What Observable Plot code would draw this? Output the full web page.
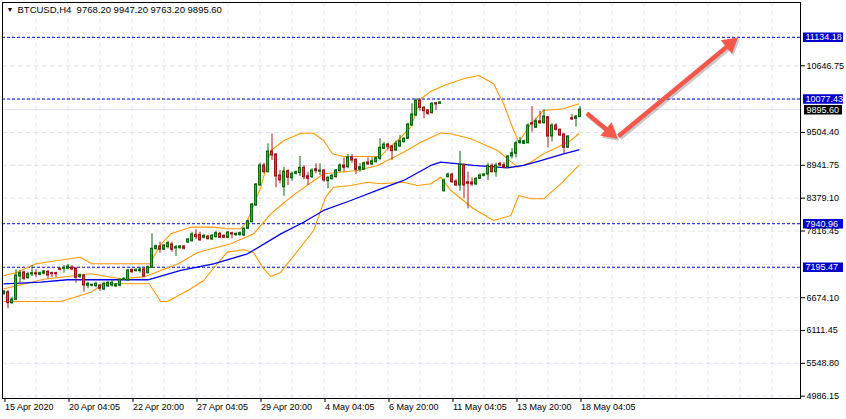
<!DOCTYPE html>
<html><head><meta charset="utf-8">
<script src="https://cdn.jsdelivr.net/npm/d3@7"></script>
<script src="https://cdn.jsdelivr.net/npm/@observablehq/plot@0.6"></script>
<style>html,body{margin:0;padding:0;background:#fff;}</style>
</head><body><div id="chart"></div>
<script>
const title = "BTCUSD,H4  9768.20 9947.20 9763.20 9895.60";
const open = [6741,6768,6580,6638,7037,7106,7008,7072,7094,7066,
7083,7118,7094,7094,7169,7169,7169,7191,7174,7025,
7054,6878,6878,6871,6883,6814,6866,6883,6866,6878,
6980,6968,7148,7128,7128,7157,7094,7186,7505,7551,
7495,7539,7585,7517,7522,7551,7619,7642,7751,7751,
7700,7722,7671,7710,7769,7734,7700,7779,7745,7745,
7740,7854,7967,8254,8596,8939,8824,9178,9127,8767,
8567,8841,8721,8796,8807,8899,8755,8738,8875,8831,
8853,8670,8704,8738,8841,8939,8910,9081,9036,8865,
8865,8990,8956,8995,9053,9225,9298,9264,9196,9264,
9338,9396,9624,9795,10052,9927,9881,9834,10006,9996,
8498,8738,8784,8665,8596,8951,8652,8647,8613,8711,
8762,8784,8933,8824,8968,8944,8910,9093,9139,9320,
9310,9320,9663,9584,9697,9663,9766,9435,9624,9550,
9470,9242,9749,9738,9768.2];
const high = [6797,6797,6683,7152,7140,7128,7111,7226,7152,7114,
7140,7140,7111,7111,7183,7226,7243,7226,7186,7080,
7071,6939,6909,6939,6900,6939,6951,6968,6917,6994,
7015,7157,7169,7166,7197,7197,7217,7769,7577,7625,
7585,7642,7625,7568,7568,7568,7688,7796,7837,7796,
7757,7740,7757,7813,7791,7748,7808,7796,7782,7799,
7877,8005,8288,8630,8978,8978,9310,9482,9139,8853,
8909,8865,8824,8844,9093,8939,8824,8882,8968,8968,
8865,8750,8784,8870,8968,9070,9127,9127,9053,8968,
8998,9070,9070,9084,9396,9338,9321,9281,9355,9453,
9418,9663,9996,10081,10064,9949,9893,10018,10018,10035,
8711,8807,8802,8694,9183,8956,8824,8728,8733,8796,
8802,8978,8968,8978,8995,8995,9110,9225,9355,9423,
9375,9653,9949,9738,9869,9893,9778,9653,9653,9567,
9482,9453,9812,9795,9947.2];
const low = [6712,6484,6558,6626,6922,6968,6991,7037,7025,7046,
7063,6998,7015,7015,7131,7094,7152,7140,6922,7003,
6768,6826,6857,6843,6785,6797,6849,6854,6849,6857,
6968,6951,7083,7114,7094,7025,7080,7174,7491,7436,
7482,7512,7453,7380,7505,7491,7602,7628,7666,7642,
7680,7662,7654,7697,7683,7688,7688,7683,7722,7731,
7722,7842,7954,8236,8579,8796,8810,9024,8557,8625,
8408,8596,8670,8776,8750,8694,8596,8716,8796,8767,
8653,8539,8690,8724,8827,8824,8882,8978,8785,8824,
8853,8939,8939,8981,9024,9213,9208,9024,9178,9247,
9324,9384,9607,9778,9869,9739,9795,9821,9881,9984,
8481,8724,8630,8579,8498,8368,8197,8579,8596,8699,
8742,8682,8810,8738,8922,8882,8896,9053,9070,9307,
9298,9307,9509,9572,9641,9650,9242,9338,9530,9435,
9139,9230,9709,9595,9763.2];
const close = [6780,6580,6643,7054,7094,6998,7077,7094,7072,7094,
7123,7054,7077,7077,7152,7186,7208,7157,7015,7059,
6883,6912,6895,6912,6826,6912,6929,6929,6900,6980,
6998,7140,7111,7152,7157,7037,7197,7512,7556,7495,
7568,7608,7495,7539,7551,7512,7671,7757,7710,7654,
7734,7676,7734,7779,7700,7700,7791,7757,7769,7779,
7854,7985,8271,8613,8939,8824,9178,9110,8750,8682,
8836,8728,8796,8824,8899,8738,8711,8853,8841,8853,
8682,8728,8762,8853,8939,8899,9081,9024,8865,8910,
8978,8956,9012,9064,9242,9298,9252,9184,9310,9355,
9396,9641,9812,10052,9927,9869,9824,9996,9984,10018,
8682,8784,8652,8596,8956,8596,8625,8613,8711,8767,
8784,8933,8824,8939,8939,8899,9093,9149,9320,9355,
9355,9624,9641,9697,9663,9778,9435,9624,9550,9453,
9242,9435,9727,9778,9895.6];

// Bollinger bands and moving average, read as [bar index, price]
const upperBand = [[0,7054],[3,7100],[8,7255],[19,7368],[22,7255],[36.5,7255],[39,7570],[41.7,7769],[46.7,7882],[52.4,7882],[55.8,7854],[59.2,7854],[60.9,7996],[64.2,8567],[66.7,9196],[70,9367],[74.2,9492],[77.4,9492],[79.9,9367],[82.1,9139],[84.9,9093],[94.2,9093],[95.9,9225],[98.4,9367],[101.7,9595],[104.2,10081],[106.7,10206],[110,10309],[114.9,10424],[118.7,10480],[122.4,10338],[124.9,9996],[127.1,9595],[128.7,9338],[131.7,9653],[134.9,9881],[139.9,9910],[143.7,9996]];
const middleBand = [[0,6826],[10,6990],[21.7,7083],[29.2,6998],[35,7030],[43.7,7260],[48.4,7448],[56.7,7597],[62.4,7769],[66.7,8111],[69.2,8253],[71.7,8396],[79.9,8796],[88.4,8853],[93.4,8939],[99.9,9167],[104.2,9338],[109.2,9495],[111.7,9482],[116.7,9396],[123.4,9196],[128.4,8910],[131.7,8995],[134.9,9139],[138.4,9252],[141.7,9367],[143.7,9482]];
const lowerBand = [[0,6609],[14.2,6609],[21.7,6768],[25,6912],[36.3,6912],[39.2,6609],[40.9,6609],[46.7,6826],[49.9,6968],[53.3,7255],[55.8,7454],[59.9,7494],[62.4,7448],[64.6,7197],[66.7,7037],[69.2,7111],[77.4,7825],[80.4,8396],[82.4,8567],[86.7,8596],[90.9,8652],[94.2,8625],[99.9,8652],[103.4,8596],[106.7,8625],[109.2,8738],[111.7,8510],[117.4,8197],[122.4,7996],[126.7,8082],[128.7,8425],[131.7,8368],[134.9,8368],[139.2,8625],[143.7,8939]];
const movingAvg = [[0,6912],[9.2,6940],[15.9,6981],[36,6981],[44.2,7140],[52.4,7255],[60.9,7426],[69.2,7768],[74.9,7967],[79.9,8168],[86.7,8339],[94.2,8539],[99.9,8682],[106.7,8939],[109.2,8998],[117.4,8939],[125.9,8899],[129.9,8939],[134.2,9024],[139.9,9139],[143.7,9208]];

const levels = [11134.18, 10077.43, 7940.96, 7195.47];
const bidPrice = 9895.60;
const priceTicks = [4986.15, 5548.80, 6111.45, 6674.10, 7816.45, 8379.10, 8941.75, 9504.40, 10646.75];
const hiddenTicks = [7245.30, 10075.60, 11209.40];
const dateIdx = [0,16,32,48,64,80,96,112,128,144];
const dateLabels = ["15 Apr 2020","20 Apr 04:05","22 Apr 20:00","27 Apr 04:05","29 Apr 20:00","4 May 04:05","6 May 20:00","11 May 04:05","13 May 20:00","18 May 04:05"];
const gridIdx = [8,16,24,32,40,48,56,64,72,80,88,96,104,112,120,128,136,144,152,160,168,176,184,192];
// arrows drawn on the chart: [fromIndex, fromPrice, toIndex, toPrice]
const arrowsData = [[145.7,9835,153.2,9410],[153.6,9440,183.3,11120]];

const candles = open.map((o,i)=>({i, o, h:high[i], l:low[i], c:close[i]}));
const ups = candles.filter(d=>d.c>=d.o);
const downs = candles.filter(d=>d.c<d.o);

const xDom = [-0.375, 199.125];
const yDom = [4946.8, 11731];
const kx = 798/(xDom[1]-xDom[0]);   // pixels per bar
const ky = 396/(yDom[1]-yDom[0]);   // pixels per price unit
const pxX = 1/kx;
const boxX1 = xDom[1] + 3*pxX, boxX2 = xDom[1] + 43*pxX;
const hw = 0.25;

// arrow shafts end behind a filled triangular head
const headLen = 15;
const shafts = [], heads = [];
arrowsData.forEach(([x1,y1,x2,y2])=>{
  const dxp = (x2-x1)*kx, dyp = -(y2-y1)*ky;
  const L = Math.hypot(dxp,dyp), ux = dxp/L, uy = dyp/L;
  shafts.push({x1, y1, x2: x2 - ux*(headLen-4)/kx, y2: y2 + uy*(headLen-4)/ky});
  heads.push({x: x2 - ux*(headLen*0.6)/kx, y: y2 + uy*(headLen*0.6)/ky, a: Math.atan2(dxp, -dyp)*180/Math.PI});
});

function arrowMarks(color, opacity, dx, dy) {
  return [
    Plot.link(shafts, {x1:"x1", y1:"y1", x2:"x2", y2:"y2", stroke: color, strokeOpacity: opacity, strokeWidth: 4.5, dx, dy}),
    Plot.dot(heads, {x:"x", y:"y", rotate:"a", symbol:"triangle", r: 6.5, fill: color, fillOpacity: opacity, stroke: "none", dx, dy})
  ];
}

const chart = Plot.plot({
  width: 846, height: 419,
  marginLeft: 2, marginRight: 46, marginTop: 2, marginBottom: 21,
  x: {domain: xDom},
  y: {domain: yDom},
  style: {fontFamily: "'Liberation Sans', Arial, sans-serif", fontSize: "9px", background: "#fff", color: "#000"},
  marks: [
    Plot.ruleY(priceTicks.concat(hiddenTicks), {stroke: "#e2e2f0", strokeDasharray: "5,3"}),
    Plot.ruleX(gridIdx, {stroke: "#e2e2f0", strokeDasharray: "5,3"}),
    Plot.ruleY([bidPrice], {stroke: "#dedeee"}),
    Plot.ruleY(levels, {stroke: "#0000dd", strokeDasharray: "3,2"}),
    Plot.line(lowerBand, {stroke: "#ff9900", strokeWidth: 1.1}),
    Plot.line(middleBand, {stroke: "#ff9900", strokeWidth: 1.1}),
    Plot.line(upperBand, {stroke: "#ff9900", strokeWidth: 1.1}),
    Plot.line(movingAvg, {stroke: "#0000ee", strokeWidth: 1.3}),
    Plot.ruleX(ups, {x: "i", y1: "l", y2: "h", stroke: "#0a6a0a"}),
    Plot.ruleX(downs, {x: "i", y1: "l", y2: "h", stroke: "#b01a1a"}),
    Plot.rect(ups, {x1: d=>d.i-hw, x2: d=>d.i+hw, y1: "o", y2: "c", fill: "#2fb52f", stroke: "#0a6a0a"}),
    Plot.rect(downs, {x1: d=>d.i-hw, x2: d=>d.i+hw, y1: "o", y2: "c", fill: "#e33b3b", stroke: "#a01515"}),
    ...arrowMarks("#777", 0.4, 1.5, 2),
    ...arrowMarks("#f4584a", 1, 0, 0),
    Plot.axisY(priceTicks, {anchor: "right", tickSize: 4, tickPadding: 2, tickFormat: d=>d.toFixed(2), fontSize: 9, label: null}),
    Plot.axisX(dateIdx, {anchor: "bottom", tickSize: 4, tickPadding: 1, textAnchor: "start", dx: 1, fontSize: 9, label: null,
      tickFormat: d=>dateLabels[dateIdx.indexOf(d)]}),
    Plot.ruleY(levels, {x1: boxX1, x2: boxX2, stroke: "#0000cc", strokeWidth: 9.5}),
    Plot.ruleY([bidPrice], {x1: boxX1 + pxX, x2: boxX2 - pxX, stroke: "#000", strokeWidth: 9.5}),
    Plot.text(levels, {x: xDom[1], y: d=>d, text: d=>d.toFixed(2), fill: "#fff", textAnchor: "start", dx: 5, fontSize: 9}),
    Plot.text([bidPrice], {x: xDom[1], y: d=>d, text: d=>d.toFixed(2), fill: "#fff", textAnchor: "start", dx: 6, fontSize: 9}),
    Plot.text([title], {frameAnchor: "top-left", dx: 15, dy: 4, textAnchor: "start", lineAnchor: "top", fontSize: 9.5, fill: "#000"}),
    Plot.text(["▼"], {frameAnchor: "top-left", dx: 4, dy: 5, textAnchor: "start", lineAnchor: "top", fontSize: 7, fill: "#000"}),
    Plot.frame({stroke: "#000"})
  ]
});
document.getElementById("chart").appendChild(chart);
</script>
</body></html>
